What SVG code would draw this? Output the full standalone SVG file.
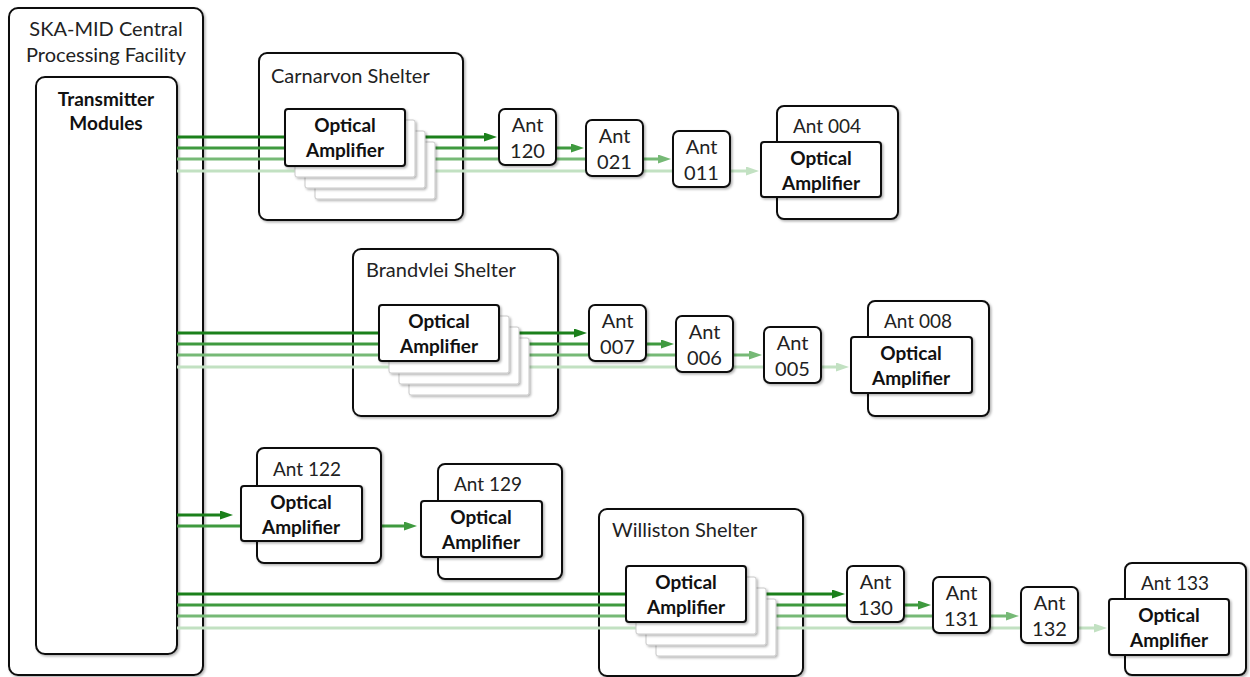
<svg xmlns="http://www.w3.org/2000/svg" width="1250" height="677" viewBox="0 0 1250 677">
<style>
.box{fill:#fff;stroke:#111;stroke-width:2;filter:url(#sh)}
.back{fill:#fff;stroke:#c8c8c8;stroke-width:1;filter:url(#sh)}
.t{font-family:Lato,"Liberation Sans",sans-serif;font-size:20px;fill:#222}
.tc{font-family:Lato,"Liberation Sans",sans-serif;font-size:19px;fill:#222;text-anchor:middle}
.ta{font-family:Lato,"Liberation Sans",sans-serif;font-size:20px;fill:#222;text-anchor:middle}
.b{font-family:Lato,"Liberation Sans",sans-serif;font-size:19px;font-weight:bold;fill:#111;text-anchor:middle}
.l{fill:none;stroke-width:3}
.c1{stroke:#1b801b}.c2{stroke:#3f9a3f}.c3{stroke:#76b976}.c4{stroke:#c2e1c2}
</style>
<defs>
<filter id="sh" x="-10%" y="-10%" width="130%" height="130%"><feDropShadow dx="1.5" dy="1.5" stdDeviation="1.2" flood-color="#000" flood-opacity="0.3"/></filter>
<marker id="a1" viewBox="0 0 13 9" markerWidth="13" markerHeight="9" markerUnits="userSpaceOnUse" refX="2" refY="4.5" orient="auto"><path d="M0,0L13,4.5L0,9z" fill="#1b801b"/></marker>
<marker id="a2" viewBox="0 0 13 9" markerWidth="13" markerHeight="9" markerUnits="userSpaceOnUse" refX="2" refY="4.5" orient="auto"><path d="M0,0L13,4.5L0,9z" fill="#3f9a3f"/></marker>
<marker id="a3" viewBox="0 0 13 9" markerWidth="13" markerHeight="9" markerUnits="userSpaceOnUse" refX="2" refY="4.5" orient="auto"><path d="M0,0L13,4.5L0,9z" fill="#76b976"/></marker>
<marker id="a4" viewBox="0 0 13 9" markerWidth="13" markerHeight="9" markerUnits="userSpaceOnUse" refX="2" refY="4.5" orient="auto"><path d="M0,0L13,4.5L0,9z" fill="#c2e1c2"/></marker>
</defs>

<g id="cpf">
<rect class="box" x="9" y="8" width="194" height="667" rx="9"/>
<text class="ta" x="106" y="36" font-size="21">SKA-MID Central</text>
<text class="ta" x="106" y="62" font-size="21">Processing Facility</text>
</g>
<g id="transmitter">
<rect class="box" x="36" y="77" width="141" height="577" rx="9"/>
<text class="b" x="106" y="106" font-size="20">Transmitter</text>
<text class="b" x="106" y="130" font-size="20">Modules</text>
</g>

<g id="carnarvon-shelter">
<rect class="box" x="259" y="53" width="204" height="167" rx="8"/>
<text class="t" x="271" y="83">Carnarvon Shelter</text>
</g>
<g id="brandvlei-shelter">
<rect class="box" x="353" y="249" width="205" height="167" rx="8"/>
<text class="t" x="366" y="277">Brandvlei Shelter</text>
</g>
<g id="williston-shelter">
<rect class="box" x="599" y="509" width="204" height="167" rx="8"/>
<text class="t" x="612" y="537">Williston Shelter</text>
</g>

<g id="connectors">
<path class="l c1" d="M177,137H486" marker-end="url(#a1)"/>
<path class="l c2" d="M177,148H573" marker-end="url(#a2)"/>
<path class="l c3" d="M177,159H660" marker-end="url(#a3)"/>
<path class="l c4" d="M177,171H748" marker-end="url(#a4)"/>

<path class="l c1" d="M177,333H576" marker-end="url(#a1)"/>
<path class="l c2" d="M177,344H663" marker-end="url(#a2)"/>
<path class="l c3" d="M177,355H751" marker-end="url(#a3)"/>
<path class="l c4" d="M177,367H838" marker-end="url(#a4)"/>

<path class="l c1" d="M177,515H222" marker-end="url(#a1)"/>
<path class="l c2" d="M177,526H245"/>
<path class="l c2" d="M362,526H406" marker-end="url(#a2)"/>

<path class="l c1" d="M177,594H834" marker-end="url(#a1)"/>
<path class="l c2" d="M177,605H920" marker-end="url(#a2)"/>
<path class="l c3" d="M177,616H1008" marker-end="url(#a3)"/>
<path class="l c4" d="M177,628H1096" marker-end="url(#a4)"/>
</g>

<g id="carnarvon-amplifier">
<rect class="back" x="315" y="142" width="120" height="57" rx="2"/>
<rect class="back" x="305" y="131" width="120" height="57" rx="2"/>
<rect class="back" x="295" y="120" width="120" height="57" rx="2"/>
<rect class="box" x="285" y="109" width="120" height="57" rx="3"/>
<text class="b" x="345" y="132">Optical</text>
<text class="b" x="345" y="157">Amplifier</text>
</g>
<g id="brandvlei-amplifier">
<rect class="back" x="409" y="338" width="120" height="57" rx="2"/>
<rect class="back" x="399" y="327" width="120" height="57" rx="2"/>
<rect class="back" x="389" y="316" width="120" height="57" rx="2"/>
<rect class="box" x="379" y="305" width="120" height="56" rx="3"/>
<text class="b" x="439" y="328">Optical</text>
<text class="b" x="439" y="353">Amplifier</text>
</g>
<g id="williston-amplifier">
<rect class="back" x="656" y="599" width="120" height="57" rx="2"/>
<rect class="back" x="646" y="588" width="120" height="57" rx="2"/>
<rect class="back" x="636" y="577" width="120" height="57" rx="2"/>
<rect class="box" x="626" y="566" width="120" height="56" rx="3"/>
<text class="b" x="686" y="589">Optical</text>
<text class="b" x="686" y="614">Amplifier</text>
</g>

<g id="ant120"><rect class="box" x="499" y="109" width="57" height="56" rx="6"/><text class="ta" x="527.5" y="132">Ant</text><text class="ta" x="527.5" y="158">120</text></g>
<g id="ant021"><rect class="box" x="586" y="120" width="57" height="56" rx="6"/><text class="ta" x="614.5" y="143">Ant</text><text class="ta" x="614.5" y="169">021</text></g>
<g id="ant011"><rect class="box" x="673" y="131" width="57" height="56" rx="6"/><text class="ta" x="701.5" y="154">Ant</text><text class="ta" x="701.5" y="180">011</text></g>
<g id="ant004">
<rect class="box" x="777" y="106" width="121" height="113" rx="7"/>
<text class="tc" x="827" y="133">Ant 004</text>
<rect class="box" x="761" y="142" width="120" height="55" rx="3"/>
<text class="b" x="821" y="165">Optical</text>
<text class="b" x="821" y="190">Amplifier</text>
</g>

<g id="ant007"><rect class="box" x="589" y="305" width="57" height="56" rx="6"/><text class="ta" x="617.5" y="328">Ant</text><text class="ta" x="617.5" y="354">007</text></g>
<g id="ant006"><rect class="box" x="676" y="316" width="57" height="56" rx="6"/><text class="ta" x="704.5" y="339">Ant</text><text class="ta" x="704.5" y="365">006</text></g>
<g id="ant005"><rect class="box" x="764" y="327" width="57" height="56" rx="6"/><text class="ta" x="792.5" y="350">Ant</text><text class="ta" x="792.5" y="376">005</text></g>
<g id="ant008">
<rect class="box" x="868" y="301" width="121" height="115" rx="7"/>
<text class="tc" x="918" y="328">Ant 008</text>
<rect class="box" x="851" y="337" width="121" height="56" rx="3"/>
<text class="b" x="911" y="360">Optical</text>
<text class="b" x="911" y="385">Amplifier</text>
</g>

<g id="ant122">
<rect class="box" x="257" y="448" width="124" height="115" rx="7"/>
<text class="tc" x="307" y="476">Ant 122</text>
<rect class="box" x="241" y="486" width="121" height="55" rx="3"/>
<text class="b" x="301" y="509">Optical</text>
<text class="b" x="301" y="534">Amplifier</text>
</g>
<g id="ant129">
<rect class="box" x="438" y="464" width="124" height="115" rx="7"/>
<text class="tc" x="488" y="491">Ant 129</text>
<rect class="box" x="421" y="501" width="121" height="56" rx="3"/>
<text class="b" x="481" y="524">Optical</text>
<text class="b" x="481" y="549">Amplifier</text>
</g>

<g id="ant130"><rect class="box" x="847" y="566" width="57" height="56" rx="6"/><text class="ta" x="875.5" y="589">Ant</text><text class="ta" x="875.5" y="615">130</text></g>
<g id="ant131"><rect class="box" x="933" y="577" width="57" height="56" rx="6"/><text class="ta" x="961.5" y="600">Ant</text><text class="ta" x="961.5" y="626">131</text></g>
<g id="ant132"><rect class="box" x="1021" y="587" width="57" height="56" rx="6"/><text class="ta" x="1049.5" y="610">Ant</text><text class="ta" x="1049.5" y="636">132</text></g>
<g id="ant133">
<rect class="box" x="1125" y="563" width="121" height="112" rx="7"/>
<text class="tc" x="1175" y="590">Ant 133</text>
<rect class="box" x="1109" y="599" width="120" height="56" rx="3"/>
<text class="b" x="1169" y="622">Optical</text>
<text class="b" x="1169" y="647">Amplifier</text>
</g>
</svg>
